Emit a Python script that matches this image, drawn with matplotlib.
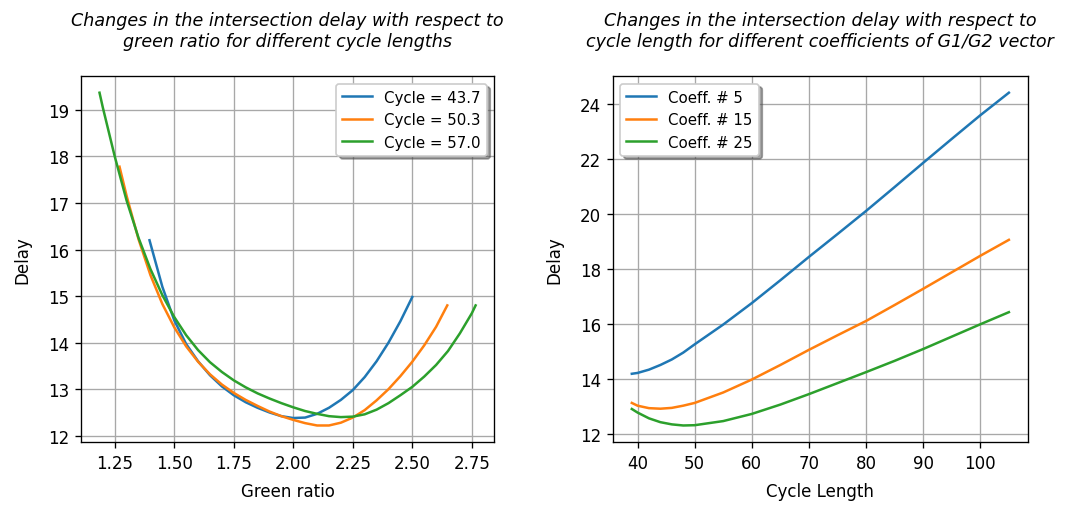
import matplotlib
matplotlib.use("Agg")
import matplotlib.pyplot as plt
import numpy as np

# left panel: delay vs green ratio
gr_437 = [1.396, 1.45, 1.50, 1.55, 1.60, 1.65, 1.70, 1.75, 1.80, 1.85, 1.90, 1.95, 2.00, 2.05,
          2.10, 2.15, 2.20, 2.25, 2.30, 2.35, 2.40, 2.45, 2.50]
delay_437 = [16.2, 15.2, 14.48, 13.97, 13.6, 13.3, 13.06, 12.87, 12.72, 12.6, 12.5, 12.42, 12.38, 12.39,
             12.47, 12.6, 12.77, 12.98, 13.26, 13.6, 14.0, 14.46, 14.98]

gr_503 = [1.27, 1.30, 1.35, 1.40, 1.45, 1.50, 1.55, 1.60, 1.65, 1.70, 1.75, 1.80, 1.85, 1.90, 1.95,
          2.00, 2.05, 2.10, 2.15, 2.20, 2.25, 2.30, 2.35, 2.40, 2.45, 2.50, 2.55, 2.60, 2.647]
delay_503 = [17.78, 17.15, 16.22, 15.45, 14.83, 14.33, 13.92, 13.59, 13.32, 13.1, 12.92, 12.77, 12.64, 12.52, 12.42,
             12.34, 12.27, 12.22, 12.22, 12.28, 12.39, 12.55, 12.76, 13.0, 13.28, 13.59, 13.94, 14.34, 14.8]

gr_570 = [1.186, 1.20, 1.25, 1.30, 1.35, 1.40, 1.45, 1.50, 1.55, 1.60, 1.65, 1.70, 1.75, 1.80, 1.85,
          1.90, 1.95, 2.00, 2.05, 2.10, 2.15, 2.20, 2.25, 2.30, 2.35, 2.40, 2.45, 2.50, 2.55, 2.60,
          2.65, 2.70, 2.75, 2.766]
delay_570 = [19.37, 19.05, 18.0, 17.05, 16.25, 15.58, 15.02, 14.55, 14.16, 13.84, 13.58, 13.37, 13.19, 13.04, 12.91,
             12.8, 12.7, 12.61, 12.53, 12.47, 12.42, 12.4, 12.41, 12.46, 12.56, 12.7, 12.87, 13.05, 13.27, 13.52,
             13.82, 14.2, 14.63, 14.8]

cycle_labels = ["Cycle = 43.7", "Cycle = 50.3", "Cycle = 57.0"]

# right panel: delay vs cycle length
cycle = [39, 40, 42, 44, 46, 48, 50, 55, 60, 65, 70, 75, 80, 85, 90, 95, 100, 105]
delay_c5 = [14.18, 14.21, 14.33, 14.5, 14.7, 14.95, 15.25, 15.97, 16.75, 17.58, 18.43, 19.26, 20.1, 20.97, 21.85, 22.72, 23.58, 24.4]
delay_c15 = [13.12, 13.02, 12.93, 12.91, 12.94, 13.02, 13.12, 13.5, 13.97, 14.5, 15.05, 15.58, 16.1, 16.68, 17.27, 17.87, 18.47, 19.05]
delay_c25 = [12.9, 12.77, 12.56, 12.42, 12.34, 12.3, 12.31, 12.46, 12.72, 13.06, 13.44, 13.84, 14.24, 14.65, 15.08, 15.53, 15.98, 16.42]

coeff_labels = ["Coeff. # 5", "Coeff. # 15", "Coeff. # 25"]

fig = plt.figure(figsize=(1069 / 120, 507 / 120), dpi=120)
ax1 = fig.add_axes([0.0755, 0.126, 0.387, 0.722])
ax2 = fig.add_axes([0.5734, 0.126, 0.388, 0.722])

ax1.plot(gr_437, delay_437, label=cycle_labels[0])
ax1.plot(gr_503, delay_503, label=cycle_labels[1])
ax1.plot(gr_570, delay_570, label=cycle_labels[2])
ax1.set_xticks([1.25, 1.50, 1.75, 2.00, 2.25, 2.50, 2.75])
ax1.set_xlabel("Green ratio", labelpad=6)
ax1.set_ylabel("Delay", labelpad=10)
ax1.set_title("Changes in the intersection delay with respect to\ngreen ratio for different cycle lengths",
              fontsize=10.5, style="italic", pad=18)
ax1.grid(True, color="#a8a8a8")
ax1.legend(loc="upper right", shadow=True, fontsize=9)

ax2.plot(cycle, delay_c5, label=coeff_labels[0])
ax2.plot(cycle, delay_c15, label=coeff_labels[1])
ax2.plot(cycle, delay_c25, label=coeff_labels[2])
ax2.set_xlabel("Cycle Length", labelpad=6)
ax2.set_ylabel("Delay", labelpad=10)
ax2.set_title("Changes in the intersection delay with respect to\ncycle length for different coefficients of G1/G2 vector",
              fontsize=10.5, style="italic", pad=18)
ax2.grid(True, color="#a8a8a8")
ax2.legend(loc="upper left", shadow=True, fontsize=9)

fig.savefig("out.png", dpi=120)
